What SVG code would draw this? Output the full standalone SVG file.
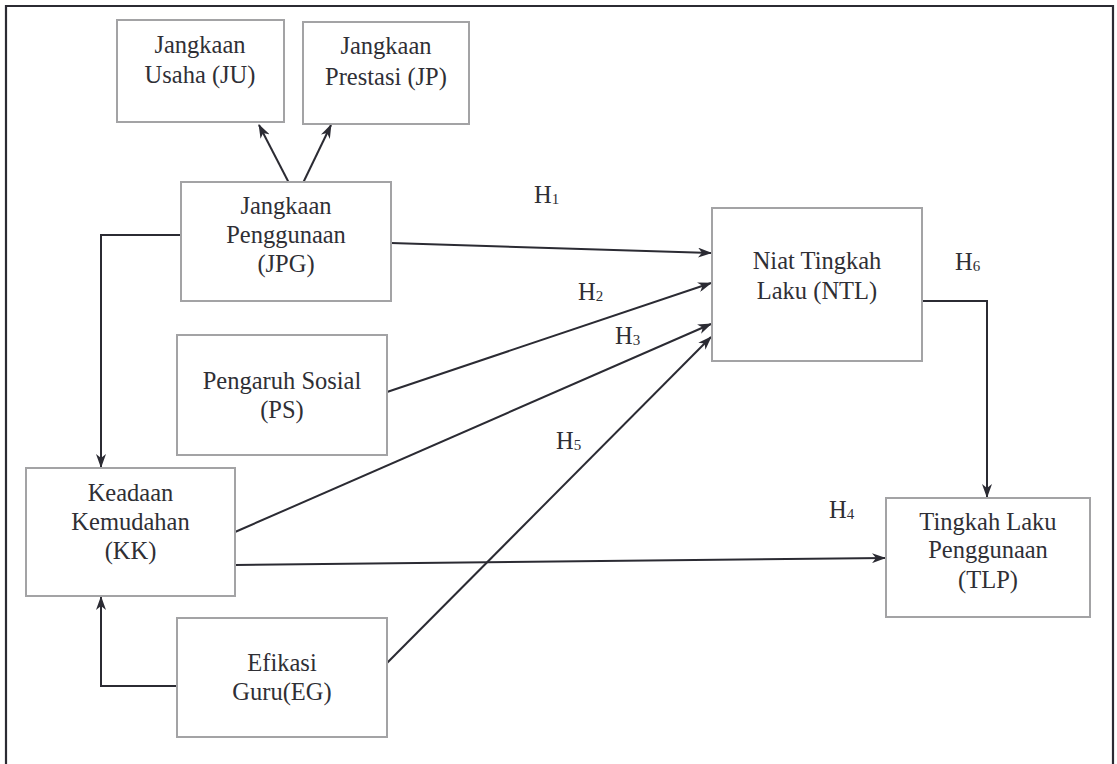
<svg xmlns="http://www.w3.org/2000/svg" width="1117" height="764" viewBox="0 0 1117 764">
<defs>
<marker id="ah" viewBox="0 0 14 10" refX="13" refY="5" markerWidth="14" markerHeight="10" markerUnits="userSpaceOnUse" orient="auto">
<path d="M0,0 L14,5 L0,10 L4,5 z" fill="#2b2b33"/>
</marker>
<style>
.box{fill:#fff;stroke:#a3a3a5;stroke-width:2}
.t{font-size:24.5px;fill:#2f2f35;text-anchor:middle}
.h{font-size:24.5px;fill:#2f2f35}
.sub{font-size:15px}
.ca{fill:none;stroke:#2b2b33;stroke-width:2;marker-end:url(#ah)}
</style>
</defs>
<rect width="1117" height="764" fill="#fff"/>
<path d="M6,766 V6 H1113 V766" fill="none" stroke="#2b2b33" stroke-width="2.2"/>

<g id="connectors">
<path class="ca" d="M289,183 L259,125"/>
<path class="ca" d="M303,183 L331,125"/>
<path class="ca" d="M181,235 H101 V467"/>
<path class="ca" d="M177,686 H101 V597"/>
<path class="ca" d="M391,243 L711,253"/>
<path class="ca" d="M387,392 L711,283"/>
<path class="ca" d="M235,532 L711,324"/>
<path class="ca" d="M387,663 L711,337"/>
<path class="ca" d="M235,565 L885,558"/>
<path class="ca" d="M922,301 H987 V497"/>
</g>

<g font-family="'Liberation Serif', 'Times New Roman', Times, serif">
<g id="JU"><rect class="box" x="117" y="20" width="167" height="102"/>
<text class="t" x="200" y="53">Jangkaan</text><text class="t" x="200" y="83">Usaha (JU)</text></g>
<g id="JP"><rect class="box" x="303" y="22" width="166" height="102"/>
<text class="t" x="386" y="54">Jangkaan</text><text class="t" x="386" y="85">Prestasi (JP)</text></g>
<g id="JPG"><rect class="box" x="181" y="182" width="210" height="119"/>
<text class="t" x="286" y="214">Jangkaan</text><text class="t" x="286" y="243">Penggunaan</text><text class="t" x="286" y="272">(JPG)</text></g>
<g id="PS"><rect class="box" x="177" y="335" width="210" height="120"/>
<text class="t" x="282" y="389">Pengaruh Sosial</text><text class="t" x="282" y="418">(PS)</text></g>
<g id="KK"><rect class="box" x="26" y="468" width="209" height="128"/>
<text class="t" x="130.5" y="501">Keadaan</text><text class="t" x="130.5" y="530">Kemudahan</text><text class="t" x="130.5" y="559">(KK)</text></g>
<g id="EG"><rect class="box" x="177" y="618" width="210" height="119"/>
<text class="t" x="282" y="671">Efikasi</text><text class="t" x="282" y="700">Guru(EG)</text></g>
<g id="NTL"><rect class="box" x="712" y="208" width="210" height="153"/>
<text class="t" x="817" y="269">Niat Tingkah</text><text class="t" x="817" y="299">Laku (NTL)</text></g>
<g id="TLP"><rect class="box" x="886" y="498" width="204" height="119"/>
<text class="t" x="988" y="530">Tingkah Laku</text><text class="t" x="988" y="558">Penggunaan</text><text class="t" x="988" y="588">(TLP)</text></g>

<g id="labels">
<text class="h" x="534" y="203">H<tspan class="sub" dy="1">1</tspan></text>
<text class="h" x="578" y="300">H<tspan class="sub" dy="1">2</tspan></text>
<text class="h" x="615" y="344">H<tspan class="sub" dy="1">3</tspan></text>
<text class="h" x="829" y="518">H<tspan class="sub" dy="1">4</tspan></text>
<text class="h" x="556" y="449">H<tspan class="sub" dy="1">5</tspan></text>
<text class="h" x="955" y="270">H<tspan class="sub" dy="1">6</tspan></text>
</g>
</g>
</svg>
